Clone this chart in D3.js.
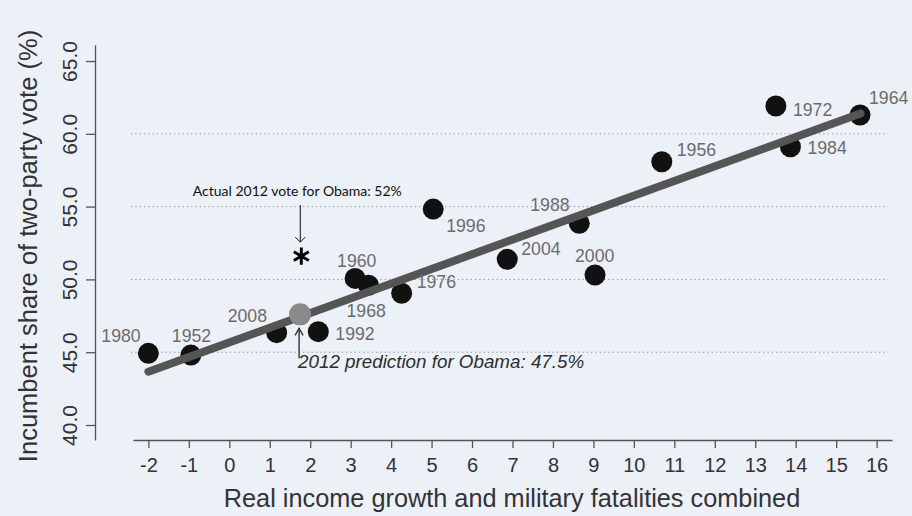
<!DOCTYPE html>
<html>
<head>
<meta charset="utf-8">
<script src="https://cdn.jsdelivr.net/npm/d3@7"></script>
<style>
  html, body { margin: 0; padding: 0; background: #ecf0f7; }
  svg { display: block; }
</style>
</head>
<body>
<svg id="chart" width="912" height="516"></svg>
<script>
// ---------------- data ----------------
const years = [1952, 1956, 1960, 1964, 1968, 1972, 1976, 1980, 1984, 1988, 1992, 1996, 2000, 2004, 2008];
const fundamentals = [-0.95, 10.69, 3.11, 15.59, 3.44, 13.51, 4.26, -2.0, 13.87, 8.65, 2.2, 5.04, 9.04, 6.87, 1.17];
const incumbentVote = [44.8, 58.08, 50.07, 61.29, 49.6, 61.91, 49.05, 44.92, 59.11, 53.85, 46.41, 54.83, 50.3, 51.38, 46.34];

const fitX = [-2.0, 15.6];
const fitY = [43.66, 61.4];

const prediction2012 = [1.75, 47.6];
const actualMarker2012 = [1.78, 51.6];

const xTicks = [-2, -1, 0, 1, 2, 3, 4, 5, 6, 7, 8, 9, 10, 11, 12, 13, 14, 15, 16];
const yTicks = [40, 45, 50, 55, 60, 65];
const yTickLabels = ["40.0", "45.0", "50.0", "55.0", "60.0", "65.0"];
const gridValues = [45, 50, 55, 60];

const xTitle = "Real income growth and military fatalities combined";
const yTitle = "Incumbent share of two-party vote (%)";
const actualText = "Actual 2012 vote for Obama: 52%";
const predictionText = "2012 prediction for Obama: 47.5%";

// ---------------- layout ----------------
const svg = d3.select("#chart");
const W = 912, H = 516;
svg.append("rect").attr("width", W).attr("height", H).attr("fill", "#ecf0f7");

const x = d3.scaleLinear().domain([-2.38, 16.38]).range([133, 892]);
const y = d3.scaleLinear().domain([38.97, 66.1]).range([440, 45]);

// label placement (pixel offsets from point centre)
const labelOffsets = {
  1980: [-47, -11], 1952: [-19, -13], 2008: [-49, -11], 1992: [17, 8],
  1960: [-18, -11], 1968: [-22, 32], 1976: [15, -5], 1996: [13, 23],
  2004: [14, -4], 1988: [-49, -12], 2000: [-20, -13], 1956: [15, -6],
  1972: [17, 10], 1984: [17, 7], 1964: [9, -11]
};

const font = "'Liberation Sans', Arial, Helvetica, sans-serif";

// gridlines
svg.append("g").selectAll("line").data(gridValues).join("line")
  .attr("x1", x.range()[0] - 2).attr("x2", x.range()[1] - 4)
  .attr("y1", d => y(d)).attr("y2", d => y(d))
  .attr("stroke", "#8f949b").attr("stroke-width", 1)
  .attr("stroke-dasharray", "1.3,3");

// x axis
const xAxis = svg.append("g").attr("transform", `translate(0,${y.range()[0]})`)
  .call(d3.axisBottom(x).tickValues(xTicks).tickFormat(d3.format("d")).tickSize(8).tickSizeOuter(0).tickPadding(10));
xAxis.select(".domain").attr("stroke", "#555").attr("stroke-width", 1.3);
xAxis.selectAll(".tick line").attr("stroke", "#555").attr("stroke-width", 1.3);
xAxis.selectAll(".tick text").attr("font-family", font).attr("font-size", 20).attr("fill", "#333")
  .text(d => d < 0 ? "-" + Math.abs(d) : String(d));

// y axis
const yAxis = svg.append("g").attr("transform", `translate(95,0)`)
  .call(d3.axisLeft(y).tickValues(yTicks).tickSize(9).tickSizeOuter(0).tickFormat((d, i) => yTickLabels[i]));
yAxis.select(".domain").attr("stroke", "#555").attr("stroke-width", 1.3);
yAxis.selectAll(".tick line").attr("stroke", "#555").attr("stroke-width", 1.3);
yAxis.selectAll(".tick text")
  .attr("font-family", font).attr("font-size", 21).attr("fill", "#333")
  .attr("x", null).attr("dy", null)
  .attr("text-anchor", "middle")
  .attr("transform", "translate(-18,0) rotate(-90)");

// axis titles
svg.append("text")
  .attr("x", (x.range()[0] + x.range()[1]) / 2 - 0.5).attr("y", 507)
  .attr("text-anchor", "middle")
  .attr("font-family", font).attr("font-size", 25.3).attr("fill", "#333")
  .text(xTitle);

svg.append("text")
  .attr("transform", `translate(37,${246}) rotate(-90)`)
  .attr("text-anchor", "middle")
  .attr("font-family", font).attr("font-size", 25.5).attr("fill", "#333")
  .text(yTitle);

// points
const pts = years.map((yr, i) => ({ year: yr, fx: fundamentals[i], v: incumbentVote[i] }));

svg.append("g").selectAll("circle").data(pts).join("circle")
  .attr("cx", d => x(d.fx)).attr("cy", d => y(d.v))
  .attr("r", 10.5).attr("fill", "#111");

// regression line
svg.append("line")
  .attr("x1", x(fitX[0])).attr("y1", y(fitY[0]))
  .attr("x2", x(fitX[1])).attr("y2", y(fitY[1]))
  .attr("stroke", "#555").attr("stroke-width", 8).attr("stroke-linecap", "round");

// prediction point
svg.append("circle")
  .attr("cx", x(prediction2012[0])).attr("cy", y(prediction2012[1]))
  .attr("r", 11).attr("fill", "#8a8a8a");

// year labels
svg.append("g").selectAll("text").data(pts).join("text")
  .attr("x", d => x(d.fx) + labelOffsets[d.year][0])
  .attr("y", d => y(d.v) + labelOffsets[d.year][1])
  .attr("font-family", font).attr("font-size", 17.7).attr("fill", "#6c6c6c")
  .text(d => d.year);

// ---- annotations ----
const px = x(prediction2012[0]) - 1, py = y(prediction2012[1]);
// up arrow from prediction label
const ag = svg.append("g").attr("stroke", "#333").attr("stroke-width", 1.4).attr("fill", "none");
ag.append("line").attr("x1", px).attr("x2", px).attr("y1", py + 44).attr("y2", py + 14);
ag.append("path").attr("d", d3.line()([[px - 4, py + 21], [px, py + 14], [px + 4, py + 21]]));

svg.append("text")
  .attr("x", px - 1).attr("y", py + 54)
  .attr("font-family", font).attr("font-size", 18.8).attr("font-style", "italic").attr("fill", "#2e2e2e")
  .text(predictionText);

// actual vote asterisk
const ax = x(actualMarker2012[0]), ay = y(actualMarker2012[1]);
const asterisk = {
  draw(ctx, size) {
    const r = Math.sqrt(size) / 2;
    const t = r / 2, u = t * Math.sqrt(3);
    ctx.moveTo(0, r); ctx.lineTo(0, -r);
    ctx.moveTo(-u, -t); ctx.lineTo(u, t);
    ctx.moveTo(-u, t); ctx.lineTo(u, -t);
  }
};
svg.append("path")
  .attr("transform", `translate(${ax},${ay})`)
  .attr("d", d3.symbol().type(asterisk).size(300)())
  .attr("stroke", "#000").attr("stroke-width", 2.9).attr("fill", "none");

const bg = svg.append("g").attr("stroke", "#111").attr("stroke-width", 1).attr("fill", "none");
bg.append("line").attr("x1", ax - 1).attr("x2", ax - 1).attr("y1", ay - 51).attr("y2", ay - 14);
bg.append("path").attr("d", d3.line()([[ax - 6, ay - 19], [ax - 1, ay - 14], [ax + 4, ay - 19]]));

svg.append("text")
  .attr("x", ax - 4).attr("y", ay - 60)
  .attr("text-anchor", "middle")
  .attr("font-family", "Lato, 'Open Sans', sans-serif").attr("font-size", 14).attr("fill", "#111")
  .text(actualText);
</script>
</body>
</html>
